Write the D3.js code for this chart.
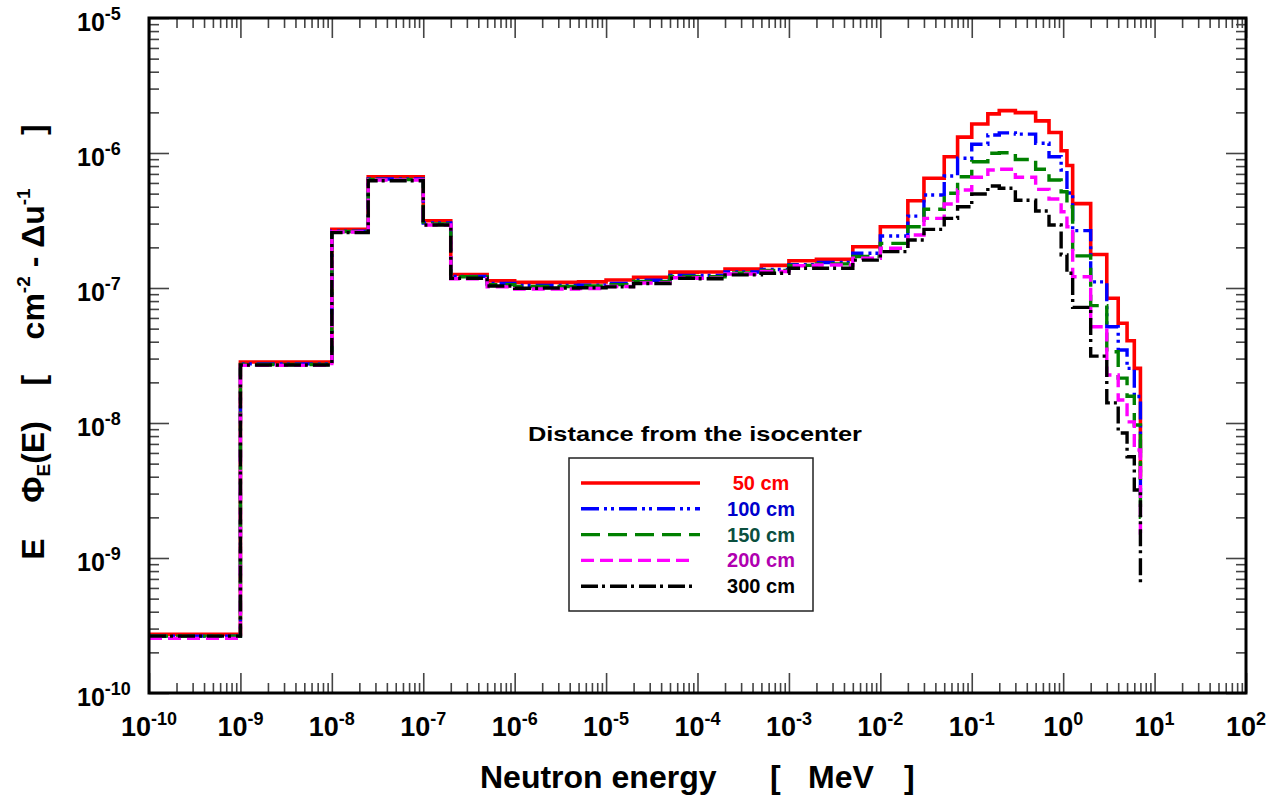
<!DOCTYPE html>
<html>
<head>
<meta charset="utf-8">
<script src="https://cdn.jsdelivr.net/npm/d3@7"></script>
<style>
  body { margin: 0; background: #fff; }
  svg { display: block; }
  text { font-family: "Liberation Sans", Arial, sans-serif; font-weight: bold; }
</style>
</head>
<body>
<script>
// energy bin edges [MeV]
var edges = [1e-10, 1e-9, 1e-8, 2.5e-8, 1e-7, 2e-7, 5e-7, 1e-6, 2e-6, 5e-6, 1e-5, 2e-5, 5e-5,
  1e-4, 2e-4, 5e-4, 1e-3, 2e-3, 5e-3, 1e-2, 2e-2, 3e-2, 5e-2, 7e-2, 0.1, 0.15, 0.2, 0.3,
  0.5, 0.7, 0.95, 1.1, 1.27, 2, 3, 4, 5, 6, 7, 7.05];

// lethargy spectra per bin, one array per distance
var flux50 = [2.72e-10, 2.83e-8, 2.72e-7, 6.67e-7, 3.15e-7, 1.26e-7, 1.13e-7, 1.10e-7, 1.10e-7,
  1.11e-7, 1.146e-7, 1.20e-7, 1.31e-7, 1.315e-7, 1.38e-7, 1.47e-7, 1.59e-7, 1.63e-7, 2.02e-7,
  2.84e-7, 4.43e-7, 6.50e-7, 9.39e-7, 1.31e-6, 1.64e-6, 1.95e-6, 2.06e-6, 1.99e-6, 1.73e-6,
  1.42e-6, 1.04e-6, 8.08e-7, 4.22e-7, 1.77e-7, 8.39e-8, 5.48e-8, 4.07e-8, 2.54e-8, 4e-9];
var flux100 = [2.64e-10, 2.74e-8, 2.64e-7, 6.41e-7, 3.03e-7, 1.22e-7, 1.08e-7, 1.045e-7, 1.045e-7,
  1.05e-7, 1.08e-7, 1.14e-7, 1.24e-7, 1.24e-7, 1.315e-7, 1.37e-7, 1.49e-7, 1.545e-7, 1.81e-7,
  2.43e-7, 3.41e-7, 4.89e-7, 6.76e-7, 9.14e-7, 1.16e-6, 1.36e-6, 1.41e-6, 1.38e-6, 1.18e-6,
  9.39e-7, 7.48e-7, 5.06e-7, 2.66e-7, 1.11e-7, 5.17e-8, 3.47e-8, 2.54e-8, 1.57e-8, 3e-9];
var flux150 = [2.64e-10, 2.71e-8, 2.62e-7, 6.36e-7, 2.98e-7, 1.21e-7, 1.06e-7, 1.025e-7, 1.025e-7,
  1.035e-7, 1.06e-7, 1.12e-7, 1.22e-7, 1.21e-7, 1.29e-7, 1.35e-7, 1.47e-7, 1.51e-7, 1.71e-7,
  2.14e-7, 2.84e-7, 3.83e-7, 5.03e-7, 6.67e-7, 8.62e-7, 9.95e-7, 1.005e-6, 8.95e-7, 7.57e-7,
  6.31e-7, 5.16e-7, 4.00e-7, 1.73e-7, 7.41e-8, 3.37e-8, 2.15e-8, 1.58e-8, 9.66e-9, 2e-9];
var flux200 = [2.54e-10, 2.67e-8, 2.60e-7, 6.31e-7, 2.93e-7, 1.17e-7, 1.02e-7, 9.84e-8, 9.84e-8,
  9.91e-8, 1.025e-7, 1.09e-7, 1.19e-7, 1.18e-7, 1.27e-7, 1.325e-7, 1.46e-7, 1.48e-7, 1.66e-7,
  1.97e-7, 2.47e-7, 3.28e-7, 4.19e-7, 5.32e-7, 6.61e-7, 7.48e-7, 7.57e-7, 6.61e-7, 5.38e-7,
  4.56e-7, 3.67e-7, 2.84e-7, 1.21e-7, 5.17e-8, 2.27e-8, 1.48e-8, 1.02e-8, 6.31e-9, 1.53e-9];
var flux300 = [2.64e-10, 2.69e-8, 2.57e-7, 6.23e-7, 2.93e-7, 1.18e-7, 1.035e-7, 9.95e-8, 1.0e-7,
  1.005e-7, 1.02e-7, 1.08e-7, 1.18e-7, 1.17e-7, 1.25e-7, 1.285e-7, 1.40e-7, 1.40e-7, 1.61e-7,
  1.86e-7, 2.27e-7, 2.72e-7, 3.28e-7, 4.00e-7, 4.97e-7, 5.70e-7, 5.48e-7, 4.47e-7, 3.72e-7,
  2.93e-7, 1.76e-7, 1.285e-7, 7.19e-8, 3.13e-8, 1.41e-8, 8.43e-9, 5.63e-9, 3.19e-9, 6.53e-10];

var seriesNames = ["50 cm", "100 cm", "150 cm", "200 cm", "300 cm"];
var xExponents = [-10, -9, -8, -7, -6, -5, -4, -3, -2, -1, 0, 1, 2];
var yExponents = [-10, -9, -8, -7, -6, -5];

function draw() {
  var series = [
    { name: seriesNames[0], values: flux50, color: "#ff0000", text: "#ff0000", dash: null, width: 3.6 },
    { name: seriesNames[1], values: flux100, color: "#0000ff", text: "#0000cc", dash: "18 5 3 4 3 5", width: 3.4 },
    { name: seriesNames[2], values: flux150, color: "#008000", text: "#0b4f3f", dash: "19 8", width: 3.4 },
    { name: seriesNames[3], values: flux200, color: "#ff00ff", text: "#b000b0", dash: "13 6", width: 3.4 },
    { name: seriesNames[4], values: flux300, color: "#000000", text: "#000000", dash: "17 4 3 5", width: 3.4 }
  ];

  var width = 1279, height = 796;
  var pLeft = 149, pRight = 1246, pTop = 18, pBottom = 693;

  var svg = d3.select("body").append("svg")
    .attr("width", width)
    .attr("height", height);

  var x = d3.scaleLog().domain([1e-10, 1e2]).range([pLeft, pRight]);
  var y = d3.scaleLog().domain([1e-10, 1e-5]).range([pBottom, pTop]);

  // tick values: decades and 2..9 minors
  function minors(exps) {
    var out = [];
    exps.slice(0, -1).forEach(function (e) {
      for (var k = 2; k <= 9; k++) out.push(k * Math.pow(10, e));
    });
    return out;
  }
  var xMajor = xExponents.map(function (e) { return Math.pow(10, e); });
  var yMajor = yExponents.map(function (e) { return Math.pow(10, e); });
  var xMinor = minors(xExponents);
  var yMinor = minors(yExponents);

  var axes = [
    { a: d3.axisBottom(x), t: "translate(0," + pBottom + ")", mj: xMajor, mn: xMinor },
    { a: d3.axisTop(x), t: "translate(0," + pTop + ")", mj: xMajor, mn: xMinor },
    { a: d3.axisLeft(y), t: "translate(" + pLeft + ",0)", mj: yMajor, mn: yMinor },
    { a: d3.axisRight(y), t: "translate(" + pRight + ",0)", mj: yMajor, mn: yMinor }
  ];
  axes.forEach(function (ax) {
    [[ax.mn, -10], [ax.mj, -20]].forEach(function (p) {
      var g = svg.append("g").attr("transform", ax.t)
        .call(ax.a.tickValues(p[0]).tickSize(p[1]).tickFormat(""));
      g.select(".domain").remove();
      g.selectAll(".tick line").attr("stroke", "#444").attr("stroke-width", 1.6);
    });
  });

  // step curves
  var line = d3.line()
    .x(function (d) { return x(d[0]); })
    .y(function (d) { return y(d[1]); })
    .curve(d3.curveStepAfter);

  function stepPoints(vals) {
    var pts = vals.map(function (v, i) { return [edges[i], v]; });
    pts.push([edges[vals.length], vals[vals.length - 1]]);
    return pts;
  }

  svg.append("g").selectAll("path")
    .data(series)
    .enter().append("path")
    .attr("d", function (s) { return line(stepPoints(s.values)); })
    .attr("fill", "none")
    .attr("stroke", function (s) { return s.color; })
    .attr("stroke-width", function (s) { return s.width; })
    .attr("stroke-dasharray", function (s) { return s.dash; });

  // frame
  svg.append("rect")
    .attr("x", pLeft).attr("y", pTop)
    .attr("width", pRight - pLeft).attr("height", pBottom - pTop)
    .attr("fill", "none").attr("stroke", "#000").attr("stroke-width", 3);

  // power-of-ten labels
  function powLabel(sel, e) {
    sel.append("tspan").text("10");
    sel.append("tspan").attr("dy", -11).attr("font-size", 18).text(e);
  }

  svg.append("g").selectAll("text")
    .data(xExponents)
    .enter().append("text")
    .attr("x", function (e) { return x(Math.pow(10, e)); })
    .attr("y", 736)
    .attr("text-anchor", "middle")
    .attr("font-size", 27)
    .each(function (e) { powLabel(d3.select(this), e); });

  svg.append("g").selectAll("text")
    .data(yExponents)
    .enter().append("text")
    .attr("x", 77)
    .attr("y", function (e) { return y(Math.pow(10, e)) + 13; })
    .attr("font-size", 25)
    .each(function (e) { powLabel(d3.select(this), e); });

  // axis titles
  var xt = svg.append("text")
    .attr("y", 788)
    .attr("font-size", 32);
  xt.append("tspan").attr("x", 480).text("Neutron energy");
  xt.append("tspan").attr("x", 770).text("[");
  xt.append("tspan").attr("x", 808).text("MeV");
  xt.append("tspan").attr("x", 904).text("]");

  var yt = svg.append("text")
    .attr("transform", "translate(44,342) rotate(-90)")
    .attr("text-anchor", "middle")
    .attr("font-size", 32)
    .style("white-space", "pre");
  yt.append("tspan").text("E    \u03A6");
  yt.append("tspan").attr("font-size", 19).attr("dy", 6).text("E");
  yt.append("tspan").attr("dy", -6).text("(E)    [    cm");
  yt.append("tspan").attr("font-size", 19).attr("dy", -14).text("-2");
  yt.append("tspan").attr("dy", 14).text(" - \u0394u");
  yt.append("tspan").attr("font-size", 19).attr("dy", -14).text("-1");
  yt.append("tspan").attr("dy", 14).text("      ]");

  // legend
  svg.append("text")
    .attr("x", 528).attr("y", 441)
    .attr("font-size", 21)
    .attr("textLength", 334)
    .attr("lengthAdjust", "spacingAndGlyphs")
    .text("Distance from the isocenter");

  svg.append("rect")
    .attr("x", 569).attr("y", 458)
    .attr("width", 244).attr("height", 153)
    .attr("fill", "#fff").attr("stroke", "#222").attr("stroke-width", 1.5);

  var leg = svg.append("g").selectAll("g")
    .data(series)
    .enter().append("g")
    .attr("transform", function (s, i) { return "translate(0," + (483 + i * 25.8) + ")"; });

  leg.append("line")
    .attr("x1", 581).attr("x2", function (s, i) { return i === 3 || i === 4 ? 693 : 700; })
    .attr("stroke", function (s) { return s.color; })
    .attr("stroke-width", function (s) { return s.width; })
    .attr("stroke-dasharray", function (s) { return s.dash; });

  leg.append("text")
    .attr("x", 761).attr("y", 7)
    .attr("text-anchor", "middle")
    .attr("font-size", 20)
    .attr("fill", function (s) { return s.text; })
    .text(function (s) { return s.name; });
}

draw();
</script>
</body>
</html>
